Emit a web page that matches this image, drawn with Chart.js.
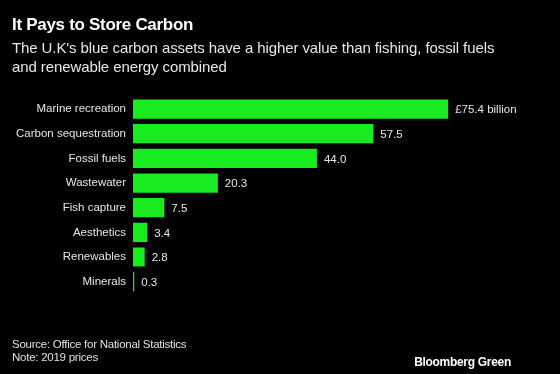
<!DOCTYPE html>
<html>
<head>
<meta charset="utf-8">
<script src="https://cdn.jsdelivr.net/npm/chart.js@4.4.0/dist/chart.umd.min.js"></script>
<style>
  html, body { margin: 0; padding: 0; background: #000; }
  #wrap { position: relative; width: 560px; height: 374px; background: #000; overflow: hidden;
          font-family: "Liberation Sans", Arial, sans-serif; color: #fff; }
  #chart { position: absolute; left: 0; top: 0; }
  .txt { position: absolute; white-space: nowrap; }
  #title { left: 12px; top: 15px; font-size: 17px; font-weight: bold; letter-spacing: -0.3px; }
  #subtitle { left: 12px; top: 38px; font-size: 15px; line-height: 19px; color: #e6e6e6; letter-spacing: -0.1px; }
  #source { left: 12px; top: 338px; font-size: 11.5px; line-height: 12.5px; color: #e0e0e0; letter-spacing: -0.25px; }
  #brand { right: 49px; top: 355px; font-size: 12px; font-weight: bold; letter-spacing: -0.3px; }
</style>
</head>
<body>
<div id="wrap">
  <canvas id="chart" width="560" height="374"></canvas>
  <div class="txt" id="title">It Pays to Store Carbon</div>
  <div class="txt" id="subtitle">The U.K's blue carbon assets have a higher value than fishing, fossil fuels<br>and renewable energy combined</div>
  <div class="txt" id="source">Source: Office for National Statistics<br>Note: 2019 prices</div>
  <div class="txt" id="brand">Bloomberg Green</div>
</div>
<script>
var categories = ["Marine recreation", "Carbon sequestration", "Fossil fuels", "Wastewater",
  "Fish capture", "Aesthetics", "Renewables", "Minerals"];
var values = [75.4, 57.5, 44.0, 20.3, 7.5, 3.4, 2.8, 0.3];
var valueLabels = ["£75.4 billion", "57.5", "44.0", "20.3", "7.5", "3.4", "2.8", "0.3"];

var green = "#18eb20";

// draw the value next to each bar
var barValues = {
  id: 'barValues',
  afterDatasetsDraw: function(chart) {
    var ctx = chart.ctx;
    var meta = chart.getDatasetMeta(0);
    ctx.save();
    ctx.font = '11.5px "Liberation Sans", Arial, sans-serif';
    ctx.fillStyle = '#e6e6e6';
    ctx.textAlign = 'left';
    ctx.textBaseline = 'middle';
    meta.data.forEach(function(bar, i) {
      ctx.fillText(valueLabels[i], bar.x + 7, bar.y + 1);
    });
    ctx.restore();
  }
};

var ctx = document.getElementById("chart").getContext('2d');
var myBarChart = new Chart(ctx, {
  type: 'bar',
  data: {
    labels: categories,
    datasets: [{
      data: values,
      backgroundColor: green,
      borderWidth: 0,
      barPercentage: 0.78,
      categoryPercentage: 1
    }]
  },
  options: {
    indexAxis: 'y',
    responsive: false,
    animation: false,
    layout: { padding: { left: 0, right: 9, top: 96.7, bottom: 80 } },
    plugins: {
      legend: { display: false },
      tooltip: { enabled: false }
    },
    scales: {
      x: {
        display: false,
        min: 0,
        max: 100
      },
      y: {
        afterFit: function(scale) { scale.width = 133; },
        grid: { display: false, drawTicks: false },
        border: { display: false },
        ticks: {
          padding: 7,
          color: '#e6e6e6',
          font: { family: '"Liberation Sans", Arial, sans-serif', size: 11.5 }
        }
      }
    }
  },
  plugins: [barValues]
});
</script>
</body>
</html>
